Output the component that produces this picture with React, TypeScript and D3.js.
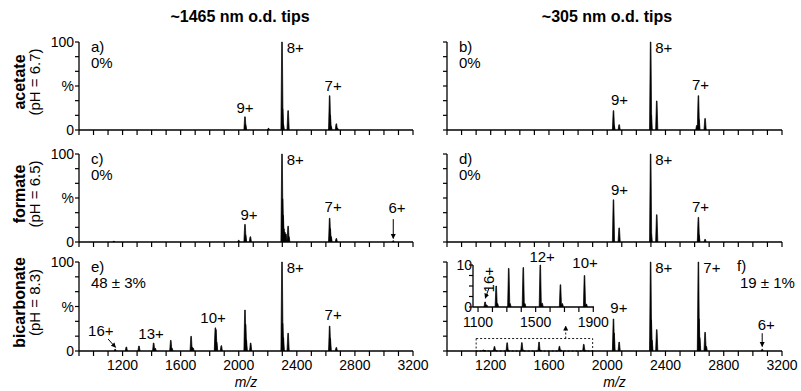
import React from 'react';
import * as d3 from 'd3';

type Peak = [number, number];
interface Note { text: string; mz: number; pct: number; anchor?: string; rotate?: boolean }
interface Arrow { mz1: number; p1: number; mz2: number; p2: number; dashed?: boolean }

// column titles and row labels
const colTitles = ['~1465 nm o.d. tips', '~305 nm o.d. tips'];
const rowNames = ['acetate', 'formate', 'bicarbonate'];
const rowPh = ['(pH = 6.7)', '(pH = 6.5)', '(pH = 8.3)'];

// axis ticks
const mzTicks = d3.range(900, 3201, 100);
const mzLabels = [1200, 1600, 2000, 2400, 2800, 3200];
const pctTicks = d3.range(0, 7).map(i => (i * 100) / 6);
const insetMzTicks = d3.range(1100, 1901, 100);
const insetMzLabels = [1100, 1500, 1900];
const insetPctTicks = [0, 2.5, 5, 7.5, 10];

// spectra: [m/z, relative intensity %]
const peaksA: Peak[] = [
  [2043, 15], [2047, 6], [2205, 2], [2298, 100], [2302, 24], [2307, 6], [2340, 22],
  [2626, 39], [2630, 17], [2636, 4], [2672, 7], [2680, 2],
];
const peaksB: Peak[] = [
  [2043, 22], [2047, 5], [2082, 6], [2298, 100], [2302, 17], [2340, 33],
  [2615, 5], [2626, 39], [2630, 12], [2672, 13],
];
const peaksC: Peak[] = [
  [1140, 1], [2000, 2], [2043, 20], [2047, 8], [2080, 6], [2298, 100], [2302, 49],
  [2306, 30], [2311, 15], [2318, 11], [2325, 9], [2340, 18], [2345, 6],
  [2626, 27], [2630, 15], [2636, 6], [2672, 4], [3064, 1.5],
];
const peaksD: Peak[] = [
  [2043, 48], [2082, 16], [2298, 100], [2302, 9], [2340, 31],
  [2626, 28], [2630, 8], [2672, 3],
];
const peaksE: Peak[] = [
  [1149, 2], [1226, 4.5], [1313, 5.6], [1414, 9], [1425, 3], [1532, 12], [1540, 3],
  [1672, 16.5], [1680, 4], [1686, 3], [1839, 26], [1843, 24], [1848, 10], [1880, 6],
  [2043, 46], [2047, 30], [2052, 12], [2082, 9], [2298, 100], [2302, 31], [2307, 15],
  [2340, 20], [2626, 28], [2630, 14], [2672, 4],
];
const peaksF: Peak[] = [
  [1149, 1.2], [1160, 0.5], [1226, 5], [1235, 0.8], [1313, 9.2], [1322, 0.8], [1414, 9.4],
  [1425, 0.8], [1532, 10], [1545, 0.9], [1672, 5.3], [1685, 0.8], [1839, 7.5], [1852, 0.7],
  [2043, 36], [2047, 20], [2082, 10], [2298, 100], [2302, 35], [2307, 12], [2340, 24],
  [2626, 100], [2630, 36], [2635, 15], [2672, 21], [2680, 5], [3064, 2],
];

const notesA: Note[] = [
  { text: '9+', mz: 2043, pct: 19 }, { text: '8+', mz: 2330, pct: 88, anchor: 'start' },
  { text: '7+', mz: 2650, pct: 44 },
];
const notesB: Note[] = [
  { text: '9+', mz: 2085, pct: 28 }, { text: '8+', mz: 2330, pct: 88, anchor: 'start' },
  { text: '7+', mz: 2640, pct: 46 },
];
const notesC: Note[] = [
  { text: '9+', mz: 2071, pct: 25 }, { text: '8+', mz: 2330, pct: 88, anchor: 'start' },
  { text: '7+', mz: 2650, pct: 34 }, { text: '6+', mz: 3090, pct: 33 },
];
const notesD: Note[] = [
  { text: '9+', mz: 2085, pct: 53 }, { text: '8+', mz: 2330, pct: 88, anchor: 'start' },
  { text: '7+', mz: 2640, pct: 34 },
];
const notesE: Note[] = [
  { text: '16+', mz: 1050, pct: 17 }, { text: '13+', mz: 1396, pct: 14 },
  { text: '10+', mz: 1823, pct: 31 }, { text: '8+', mz: 2330, pct: 88, anchor: 'start' },
  { text: '7+', mz: 2650, pct: 35 },
];
const notesF: Note[] = [
  { text: '9+', mz: 2080, pct: 43 }, { text: '8+', mz: 2330, pct: 88, anchor: 'start' },
  { text: '7+', mz: 2660, pct: 88, anchor: 'start' }, { text: '6+', mz: 3092, pct: 24 },
];
const notesInset: Note[] = [
  { text: '16+', mz: 1176, pct: 6.5, rotate: true }, { text: '12+', mz: 1545, pct: 10.8 },
  { text: '10+', mz: 1843, pct: 9.3 },
];

const arrowsC: Arrow[] = [{ mz1: 3064, p1: 26, mz2: 3064, p2: 4 }];
const arrowsE: Arrow[] = [{ mz1: 1100, p1: 13.5, mz2: 1152, p2: 4 }];
const arrowsF: Arrow[] = [
  { mz1: 3064, p1: 20, mz2: 3064, p2: 5 },
  { mz1: 1715, p1: 14, mz2: 1715, p2: 28, dashed: true },
];
const arrowsInset: Arrow[] = [{ mz1: 1176, p1: 4.5, mz2: 1150, p2: 2.1 }];

const headers = [['a)', '0%'], ['b)', '0%'], ['c)', '0%'], ['d)', '0%'], ['e)', '48 ± 3%'], ['f)', '19 ± 1%']];

const FONT = 'Liberation Sans, Arial, sans-serif';
const cols = [[79, 413], [447, 782]];
const rows = [[42, 130], [154, 242], [262, 351]];

function peakPath(peaks: Peak[], x: d3.ScaleLinear<number, number>, y: d3.ScaleLinear<number, number>) {
  const line = d3.line<[number, number]>();
  return peaks
    .map(([mz, p]) => line([[x(mz) - 1.1, y(0)], [x(mz) - 0.3, y(p)], [x(mz) + 0.3, y(p)], [x(mz) + 1.1, y(0)]]))
    .join(' ');
}

function ArrowMark({ a, x, y }: { a: Arrow; x: any; y: any }) {
  return (
    <line x1={x(a.mz1)} y1={y(a.p1)} x2={x(a.mz2)} y2={y(a.p2)} stroke="#000"
      strokeWidth={a.dashed ? 0.9 : 1} strokeDasharray={a.dashed ? '2,2' : undefined}
      markerEnd="url(#arrowhead)" />
  );
}

function Panel({ col, row, peaks, notes, arrows, header, showY, showX, inset }: any) {
  const [x0, x1] = cols[col];
  const [top, bottom] = rows[row];
  const x = d3.scaleLinear().domain([900, 3200]).range([x0, x1]);
  const y = d3.scaleLinear().domain([0, 100]).range([bottom, top]);
  return (
    <g fontFamily={FONT}>
      <path d={peakPath(peaks, x, y)} fill="#000" stroke="#000" strokeWidth={0.7} />
      <line x1={x0} x2={x1} y1={bottom} y2={bottom} stroke="#000" strokeWidth={1.3} />
      <line x1={x0} x2={x0} y1={top} y2={bottom} stroke="#000" strokeWidth={1.3} />
      {mzTicks.map(t => (
        <line key={t} x1={x(t)} x2={x(t)} y1={bottom} y2={bottom + 5} stroke="#000" strokeWidth={1.2} />
      ))}
      {pctTicks.map(t => (
        <line key={t} x1={x0 - 4} x2={x0} y1={y(t)} y2={y(t)} stroke="#000" strokeWidth={1.2} />
      ))}
      {showY && (
        <g fontSize={14} textAnchor="end">
          <text x={x0 - 5} y={y(100) + 5}>100</text>
          <text x={x0 - 5} y={y(50) + 5}>%</text>
          <text x={x0 - 5} y={y(0) + 5}>0</text>
        </g>
      )}
      {showX && (
        <g fontSize={14} textAnchor="middle">
          {mzLabels.map(t => <text key={t} x={x(t)} y={bottom + 19}>{t}</text>)}
          <text x={(x0 + x1) / 2} y={bottom + 36} fontStyle="italic">m/z</text>
        </g>
      )}
      {col === 0 || row < 2 ? (
        <g fontSize={15}>
          <text x={x0 + 12} y={top + 10}>{header[0]}</text>
          <text x={x0 + 12} y={top + 26}>{header[1]}</text>
        </g>
      ) : (
        <g fontSize={15}>
          <text x={737} y={top + 9}>{header[0]}</text>
          <text x={740} y={top + 26}>{header[1]}</text>
        </g>
      )}
      {notes.map((n: Note, i: number) => (
        <text key={i} x={x(n.mz)} y={y(n.pct)} fontSize={15} textAnchor={n.anchor || 'middle'}>{n.text}</text>
      ))}
      {arrows.map((a: Arrow, i: number) => <ArrowMark key={i} a={a} x={x} y={y} />)}
      {inset && (
        <rect x={x(1100)} y={y(14)} width={x(1900) - x(1100)} height={y(0) - y(14)}
          fill="none" stroke="#000" strokeWidth={0.9} strokeDasharray="2,2" />
      )}
      {inset && <Inset peaks={peaks} />}
    </g>
  );
}

function Inset({ peaks }: { peaks: Peak[] }) {
  const x = d3.scaleLinear().domain([1065, 1905]).range([473, 594]);
  const y = d3.scaleLinear().domain([0, 10]).range([307, 265]);
  const inRange = peaks.filter(([mz]) => mz >= 1070 && mz <= 1900);
  return (
    <g fontFamily={FONT}>
      <path d={peakPath(inRange, x, y)} fill="#000" stroke="#000" strokeWidth={0.7} />
      <line x1={473} x2={594} y1={y(0)} y2={y(0)} stroke="#000" strokeWidth={1.3} />
      <line x1={473} x2={473} y1={y(10)} y2={y(0)} stroke="#000" strokeWidth={1.3} />
      {insetMzTicks.map(t => (
        <line key={t} x1={x(t)} x2={x(t)} y1={y(0)} y2={y(0) + 5} stroke="#000" strokeWidth={1.2} />
      ))}
      {insetPctTicks.map(t => (
        <line key={t} x1={469} x2={473} y1={y(t)} y2={y(t)} stroke="#000" strokeWidth={1.2} />
      ))}
      <g fontSize={14} textAnchor="end">
        <text x={472} y={y(10) + 5}>10</text>
        <text x={472} y={y(0) + 5}>0</text>
      </g>
      <g fontSize={14} textAnchor="middle">
        {insetMzLabels.map(t => <text key={t} x={x(t)} y={y(0) + 20}>{t}</text>)}
      </g>
      {notesInset.map((n, i) =>
        n.rotate ? (
          <text key={i} fontSize={15} textAnchor="middle"
            transform={`translate(${x(n.mz) + 5},${y(n.pct)}) rotate(-90)`}>{n.text}</text>
        ) : (
          <text key={i} x={x(n.mz)} y={y(n.pct)} fontSize={15} textAnchor={n.anchor || 'middle'}>{n.text}</text>
        ),
      )}
      {arrowsInset.map((a, i) => <ArrowMark key={i} a={a} x={x} y={y} />)}
    </g>
  );
}

export default function App() {
  const spectra = [peaksA, peaksB, peaksC, peaksD, peaksE, peaksF];
  const notes = [notesA, notesB, notesC, notesD, notesE, notesF];
  const arrows = [[], [], arrowsC, [], arrowsE, arrowsF];
  return (
    <svg width={801} height={391} style={{ position: 'absolute', left: 0, top: 0, background: '#fff' }}>
      <defs>
        <marker id="arrowhead" viewBox="0 0 10 10" refX="9" refY="5" markerWidth="5" markerHeight="6"
          orient="auto" markerUnits="userSpaceOnUse">
          <path d="M0,0 L10,5 L0,10 z" fill="#000" />
        </marker>
      </defs>
      {colTitles.map((t, i) => (
        <text key={t} x={i === 0 ? 240 : 607} y={22} fontFamily={FONT} fontSize={16} fontWeight="bold"
          textAnchor="middle">{t}</text>
      ))}
      {rowNames.map((n, r) => {
        const cy = (rows[r][0] + rows[r][1]) / 2 - 4;
        return (
          <g key={n} fontFamily={FONT}>
            <text transform={`translate(25,${cy}) rotate(-90)`} fontSize={16} fontWeight="bold" textAnchor="middle">{n}</text>
            <text transform={`translate(40,${cy}) rotate(-90)`} fontSize={15} textAnchor="middle">{rowPh[r]}</text>
          </g>
        );
      })}
      {spectra.map((p, i) => {
        const col = i % 2;
        const row = Math.floor(i / 2);
        return (
          <Panel key={i} col={col} row={row} peaks={p} notes={notes[i]} arrows={arrows[i]}
            header={headers[i]} showY={col === 0} showX={row === 2} inset={i === 5} />
        );
      })}
    </svg>
  );
}
